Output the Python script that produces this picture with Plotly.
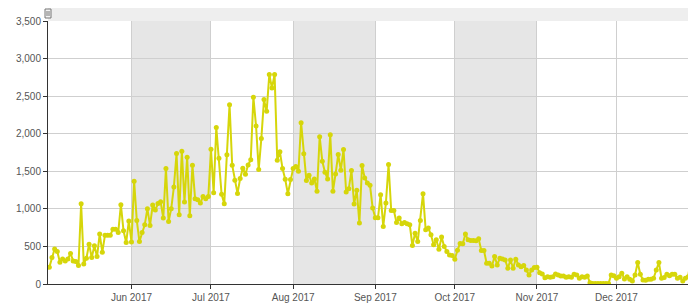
import pandas as pd
import plotly.graph_objects as go

# Daily values (2017)
may = [223, 351, 467, 432, 290, 334, 307, 334, 405, 307,
       298, 245, 1069, 267, 343, 530, 351, 508, 365, 664,
       423, 650, 650, 650, 730, 730, 685, 1055, 708, 552, 840]
jun = [560, 1367, 846, 565, 685, 788, 1002, 779, 1050, 985,
       1070, 1095, 878, 1536, 832, 1002, 1292, 1737, 922, 1768,
       1091, 1688, 909, 1581, 1136, 1122, 1078, 1166, 1136, 1166]
jul = [1792, 1214, 2084, 1674, 1193, 1069, 1719, 2387, 1581, 1380,
       1206, 1403, 1540, 1460, 1585, 1652, 2485, 2102, 1523, 1937,
       2454, 2298, 2788, 2609, 2788, 1647, 1759, 1536, 1394, 1202, 1392]
aug = [1536, 1565, 1500, 2147, 1733, 1376, 1447, 1345, 1398, 1233,
       1960, 1634, 1487, 1398, 1987, 1233, 1465, 1723, 1514, 1790,
       1225, 1269, 1510, 1065, 1247, 811, 1576, 1412, 1345, 1313, 1011]
sep = [880, 880, 1189, 766, 1078, 1590, 979, 979, 819, 878,
       802, 819, 802, 788, 512, 677, 565, 846, 1202, 721,
       744, 655, 521, 588, 463, 624, 498, 432, 387, 380]
oct_ = [330, 450, 540, 534, 664, 588, 579, 579, 575, 601,
        445, 445, 276, 276, 240, 365, 254, 343, 334, 320,
        209, 320, 209, 330, 254, 231, 245, 187, 120, 187, 218]
nov = [223, 151, 134, 84, 98, 89, 98, 134, 120, 107,
       107, 89, 98, 89, 129, 120, 76, 98, 89, 107,
       17, 8, 8, 8, 8, 8, 8, 8, 120, 111]
dec = [76, 98, 143, 67, 98, 62, 40, 120, 285, 129,
       53, 49, 62, 62, 76, 187, 285, 76, 85, 129,
       111, 129, 129, 76, 89, 40, 76, 98, 312, 276, 100]

values = may + jun + jul + aug + sep + oct_ + nov + dec
dates = pd.date_range("2017-05-01", periods=len(values), freq="D")

tick_vals = ["2017-06-01", "2017-07-01", "2017-08-01", "2017-09-01",
             "2017-10-01", "2017-11-01", "2017-12-01"]
tick_text = ["Jun 2017", "Jul 2017", "Aug 2017", "Sep 2017",
             "Oct 2017", "Nov 2017", "Dec 2017"]
band_starts = ["2017-06-01", "2017-08-01", "2017-10-01"]
band_ends = ["2017-07-01", "2017-09-01", "2017-11-01"]

PW, PH = 648, 263  # plot area size in px

fig = go.Figure()
fig.add_trace(go.Scatter(
    x=dates, y=values, mode="lines+markers",
    line=dict(color="#d6d60a", width=2),
    marker=dict(color="#d6d60a", size=5),
    showlegend=False,
))

shapes = []
for s, e in zip(band_starts, band_ends):
    shapes.append(dict(type="rect", xref="x", yref="paper", x0=s, x1=e,
                       y0=0, y1=1, fillcolor="#e6e6e6", line=dict(width=0),
                       layer="below"))
# top scrollbar strip
shapes.append(dict(type="rect", xref="paper", yref="paper", x0=0, x1=1.01,
                   y0=1, y1=1 + 13 / PH, fillcolor="#eeeeee",
                   line=dict(width=0), layer="below"))
# left handle
shapes.append(dict(type="rect", xref="paper", yref="paper",
                   x0=-3 / PW, x1=3 / PW, y0=1 + 3 / PH, y1=1 + 12 / PH,
                   fillcolor="#f4f4f4", line=dict(color="#777", width=1),
                   layer="above"))
for dx in (-1 / PW, 1 / PW):
    shapes.append(dict(type="line", xref="paper", yref="paper",
                       x0=dx, x1=dx, y0=1 + 5 / PH, y1=1 + 10 / PH,
                       line=dict(color="#777", width=1), layer="above"))
# right handle (partly visible)
shapes.append(dict(type="rect", xref="paper", yref="paper",
                   x0=1 - 2 / PW, x1=1 + 6 / PW, y0=1 + 3 / PH, y1=1 + 12 / PH,
                   fillcolor="#555", line=dict(color="#555", width=1),
                   layer="above"))

# the page body adds an 8px offset, so margins compensate for it
fig.update_layout(
    width=696, height=304,
    margin=dict(l=40, r=8, t=13, b=28, autoexpand=False),
    paper_bgcolor="white", plot_bgcolor="white",
    font=dict(family="Liberation Sans, Arial, sans-serif", size=10, color="#555"),
    shapes=shapes,
    hovermode=False,
)
fig.update_xaxes(
    type="date",
    range=["2017-04-30 12:00", "2017-12-31 00:00"],
    tickvals=tick_vals, ticktext=tick_text,
    showgrid=True, gridcolor="#cfcfcf", gridwidth=1,
    showline=True, linecolor="#333", linewidth=1,
    ticks="outside", ticklen=4, tickcolor="#333",
    zeroline=False, automargin=False,
)
fig.update_yaxes(
    range=[0, 3500], dtick=500, tickformat=",",
    showgrid=True, gridcolor="#cfcfcf", gridwidth=1,
    showline=True, linecolor="#333", linewidth=1,
    ticks="outside", ticklen=4, tickcolor="#333",
    zeroline=False, automargin=False,
)

fig.write_html("out.html")
